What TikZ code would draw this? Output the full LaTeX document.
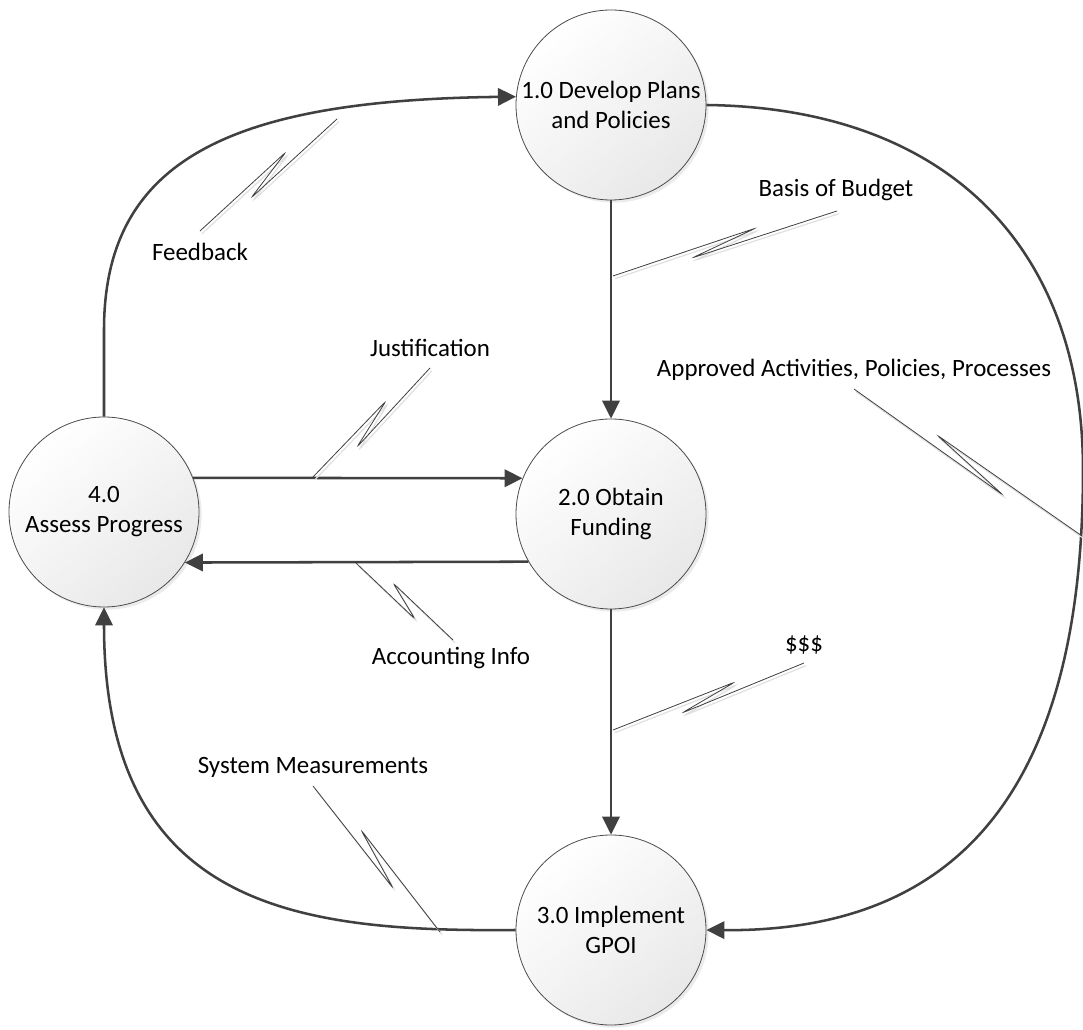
\documentclass[tikz,border=0pt]{standalone}
\usepackage{fontspec}
\setmainfont{Carlito}
\usetikzlibrary{arrows.meta,shadows}
\begin{document}
\begin{tikzpicture}[x=0.75pt,y=-0.75pt,
  proc/.style={circle, draw=black!70, line width=0.6pt, minimum size=142.5pt, inner sep=0pt,
    align=center, top color=white, bottom color=black!9, shading angle=40,
    drop shadow={shadow xshift=2pt, shadow yshift=-2pt, opacity=0.25, fill=black!30},
    font=\fontsize{18.7}{22.5}\selectfont},
  flow/.style={line width=1.9pt, draw=black!75, -{Triangle[length=13.5pt,width=13pt]}},
  leader/.style={line width=0.6pt, draw=black!75, rounded corners=2.5pt},
  leadshadow/.style={line width=0.9pt, draw=black!12, rounded corners=2.5pt,
    transform canvas={shift={(1.5pt,-2pt)}}},
  lbl/.style={font=\fontsize{18.7}{22.5}\selectfont, inner sep=0pt}]
\fill[white] (0,0) rectangle (1083,1030);
\useasboundingbox (0,0) rectangle (1083,1030);

% processes
\node[proc] (p1) at (611,105) {1.0 Develop Plans\\and Policies};
\node[proc] (p2) at (611,514) {2.0 Obtain\\Funding};
\node[proc] (p3) at (611,930) {3.0 Implement\\GPOI};
\node[proc] (p4) at (104,512) {4.0\\Assess Progress};

% flows
\draw[flow] (p4.north) -- (104,330) .. controls (104,160) and (230,100) .. (p1.175);
\draw[flow] (p1.south) -- (p2.north);
\draw[flow] (p2.south) -- (p3.north);
\draw[flow] (p4.21) -- (p2.158);
\draw[flow] (p2.210) -- (p4.328);
\draw[flow] (p1.east) .. controls (950,108) and (1083,250) .. (1083,470)
  .. controls (1083,800) and (950,932) .. (p3.east);
\draw[flow] (p3.west) .. controls (300,932) and (104,910) .. (p4.south);

% labels
\node[lbl] (lfb) at (200,252) {Feedback};
\node[lbl] (lbb) at (836,190) {Basis of Budget};
\node[lbl] (lju) at (430,348) {Justification};
\node[lbl] (lap) at (854,370) {Approved Activities, Policies, Processes};
\node[lbl] (lai) at (451,658) {Accounting Info};
\node[lbl] (ld) at (804,645) {\$\$\$};
\node[lbl] (lsm) at (313,767) {System Measurements};

% leader points
\coordinate (fa) at (200,231); \coordinate (fb) at (286,152); \coordinate (fc) at (251,198); \coordinate (fd) at (337,119);
\coordinate (ba) at (613,276); \coordinate (bb) at (756,228); \coordinate (bc) at (692,258); \coordinate (bd) at (837,211);
\coordinate (ja) at (313,477); \coordinate (jb) at (386,401); \coordinate (jc) at (357,447); \coordinate (jd) at (430,368);
\coordinate (aa) at (854,389); \coordinate (ab) at (1003,495); \coordinate (ac) at (937,435); \coordinate (ad) at (1082,536);
\coordinate (ia) at (356,563); \coordinate (ib) at (415,619); \coordinate (ic) at (393,583); \coordinate (id) at (453,640);
\coordinate (da) at (613,730); \coordinate (db) at (735,682); \coordinate (dc) at (682,713); \coordinate (dd) at (804,663);
\coordinate (sa) at (313,786); \coordinate (sb) at (393,888); \coordinate (sc) at (361,830); \coordinate (sd) at (440,932);

\foreach \p in {f,b,j,a,i,d,s}{
  \draw[leadshadow] (\p a) -- (\p b) -- (\p c) -- (\p d);
  \draw[leader] (\p a) -- (\p b) -- (\p c) -- (\p d);
}
\end{tikzpicture}
\end{document}
